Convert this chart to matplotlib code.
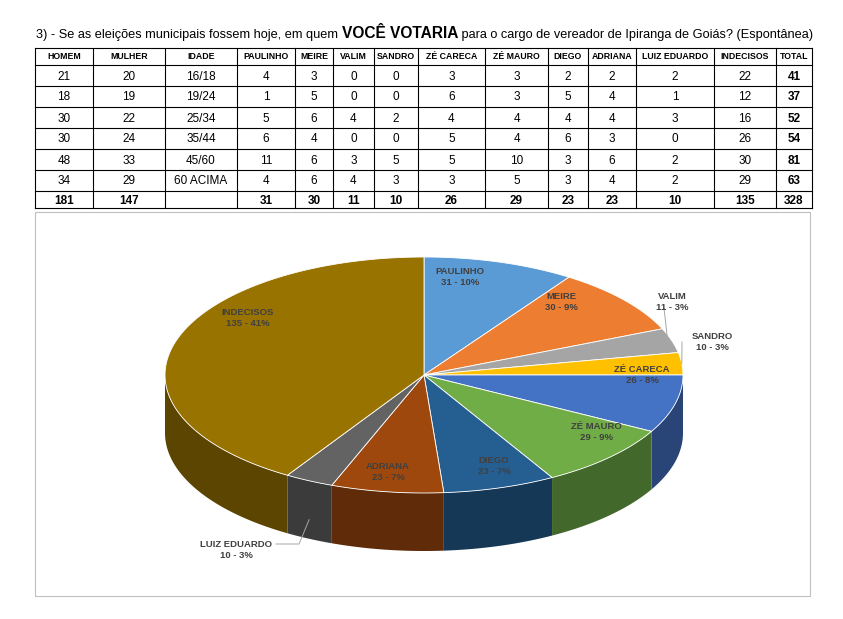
import matplotlib
matplotlib.use("Agg")
import matplotlib.pyplot as plt
import numpy as np
from matplotlib.patches import Polygon, Rectangle
import matplotlib.colors as mc

plt.rcParams['font.family'] = ['Liberation Sans', 'DejaVu Sans']

headers = ["HOMEM","MULHER","IDADE","PAULINHO","MEIRE","VALIM","SANDRO","ZÉ CARECA","ZÉ MAURO","DIEGO","ADRIANA","LUIZ EDUARDO","INDECISOS","TOTAL"]
homem = [21,18,30,30,48,34]
mulher = [20,19,22,24,33,29]
idade = ["16/18","19/24","25/34","35/44","45/60","60 ACIMA"]
paulinho = [4,1,5,6,11,4]
meire = [3,5,6,4,6,6]
valim = [0,0,4,0,3,4]
sandro = [0,0,2,0,5,3]
ze_careca = [3,6,4,5,5,3]
ze_mauro = [3,3,4,4,10,5]
diego = [2,5,4,6,3,3]
adriana = [2,4,4,3,6,4]
luiz = [2,1,3,0,2,2]
indecisos = [22,12,16,26,30,29]
total = [41,37,52,54,81,63]
totals_row = ["181","147","","31","30","11","10","26","29","23","23","10","135","328"]

pie_labels = ["PAULINHO","MEIRE","VALIM","SANDRO","ZÉ CARECA","ZÉ MAURO","DIEGO","ADRIANA","LUIZ EDUARDO","INDECISOS"]
pie_values = [31,30,11,10,26,29,23,23,10,135]
pie_pct = ["10%","9%","3%","3%","8%","9%","7%","7%","3%","41%"]
colors = ["#5B9BD5","#ED7D31","#A5A5A5","#FFC000","#4472C4","#70AD47","#255E91","#9E480E","#636363","#997300"]

fig = plt.figure(figsize=(8.43,6.19), dpi=100)
ax = fig.add_axes([0,0,1,1])
ax.set_xlim(0,843); ax.set_ylim(619,0); ax.axis('off')

parts = [("3) - Se as eleições municipais fossem hoje, em quem ", 9.2, 'normal'),
         ("VOCÊ VOTARIA", 11.2, 'bold'),
         (" para o cargo de vereador de Ipiranga de Goiás? (Espontânea)", 9.2, 'normal')]
fig.canvas.draw()
r = fig.canvas.get_renderer()
x = 36
for s, fs, fw in parts:
    t = ax.text(x, 38, s, fontsize=fs, fontweight=fw, va='baseline', ha='left')
    x += t.get_window_extent(renderer=r).width

cols = [35,93,165,237,295,333,374,418,485,548,588,636,714,776,812]
rows = [48,65,86,107,128,149,170,191,208]
for yy in rows:
    ax.plot([cols[0],cols[-1]],[yy,yy],color='black',lw=0.8)
for xx in cols:
    ax.plot([xx,xx],[rows[0],rows[-1]],color='black',lw=0.8)
for i,h in enumerate(headers):
    ax.text((cols[i]+cols[i+1])/2,(rows[0]+rows[1])/2,h,ha='center',va='center',fontsize=6.3,fontweight='bold')
data_cols = [homem,mulher,idade,paulinho,meire,valim,sandro,ze_careca,ze_mauro,diego,adriana,luiz,indecisos,total]
for j in range(6):
    for i,c in enumerate(data_cols):
        ax.text((cols[i]+cols[i+1])/2,(rows[j+1]+rows[j+2])/2+1,str(c[j]),ha='center',va='center',
                fontsize=8.5,fontweight='bold' if i==13 else 'normal')
for i,s in enumerate(totals_row):
    ax.text((cols[i]+cols[i+1])/2,(rows[7]+rows[8])/2+1,s,ha='center',va='center',fontsize=8.5,fontweight='bold')

ax.add_patch(Rectangle((35,212),775,384,fill=False,ec='#BFBFBF',lw=0.8))

cx, cy, rx, ry, d = 424, 375, 259, 118, 58
def pt(a, dy=0):
    t = np.radians(a)
    return cx + rx*np.cos(t), cy - ry*np.sin(t) + dy
def darker(c, f=0.6):
    return tuple(v*f for v in mc.to_rgb(c))

tot = sum(pie_values)
angles = []
start = 90.0
for v in pie_values:
    end = start - v/tot*360
    angles.append((start, end)); start = end

for (a0,a1),c in zip(angles,colors):
    for off in (-360,0,360):
        s = max(a1, 180+off); e = min(a0, 360+off)
        if e > s:
            ts = np.linspace(s,e,60)
            top = [pt(t) for t in ts]
            bot = [pt(t,d) for t in ts[::-1]]
            ax.add_patch(Polygon(top+bot, closed=True, fc=darker(c), ec='none'))
for (a0,a1),c in zip(angles,colors):
    ts = np.linspace(a0,a1,100)
    ax.add_patch(Polygon([(cx,cy)] + [pt(t) for t in ts], closed=True, fc=c, ec='white', lw=0.6))

lab_pos = {"PAULINHO":(460,277),"MEIRE":(561,302),"VALIM":(672,302),"SANDRO":(712,342),
           "ZÉ CARECA":(642,375),"ZÉ MAURO":(596,432),"DIEGO":(494,466),"ADRIANA":(388,472),
           "LUIZ EDUARDO":(236,550),"INDECISOS":(248,318)}
outside = {"VALIM","SANDRO","LUIZ EDUARDO"}
for (a0,a1),name,v,p in zip(angles,pie_labels,pie_values,pie_pct):
    x,y = lab_pos[name]
    ax.text(x,y,f"{name}\n{v} - {p}",ha='center',va='center',fontsize=6.8,fontweight='bold',
            color='#404040', linespacing=1.4)
    if name in outside:
        mid = (a0+a1)/2
        if name=="LUIZ EDUARDO":
            px,py = pt(mid, d*0.5)
            ax.plot([px,px-10,x+40],[py+10,544,544],color='#A6A6A6',lw=0.7)
        elif name=="VALIM":
            px,py = pt(mid)
            ax.plot([px-4,x-8],[py,y+6],color='#A6A6A6',lw=0.7)
        else:
            px,py = pt(mid)
            ax.plot([px,x-30],[py,y],color='#A6A6A6',lw=0.7)

fig.savefig("out.png", dpi=100)
